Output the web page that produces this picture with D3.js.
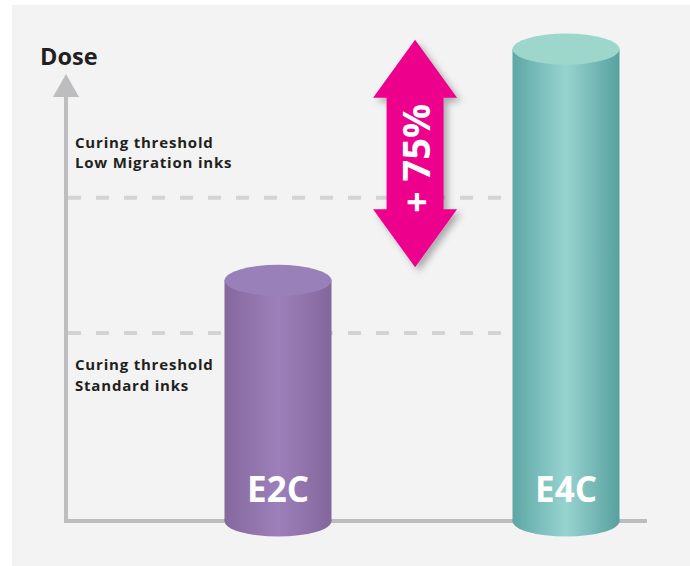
<!DOCTYPE html>
<html>
<head>
<meta charset="utf-8">
<script src="https://cdn.jsdelivr.net/npm/d3@7"></script>
<style>
  html, body { margin: 0; padding: 0; background: #ffffff; }
  svg { display: block; font-family: "Open Sans", "Noto Sans", sans-serif; }
</style>
</head>
<body>
<div id="chart"></div>
<script>
// chart values
var categories = ["E2C", "E4C"];
var doseValues = [128, 251];
var thresholdValues = [172, 100];
var thresholdLabels = [["Curing threshold", "Low Migration inks"], ["Curing threshold", "Standard inks"]];
var increaseLabel = "+ 75%";
var increaseRange = [135, 256];
var axisTitle = "Dose";

(function(){

  var ch = {

    initialize: function() {
      ch.svg = d3.select("#chart").append("svg")
                 .attr("width", 690)
                 .attr("height", 566);

      ch.origin = {x: 66, y: 521};

      ch.y = d3.scaleLinear().domain([0, 275]).range([ch.origin.y, 4]);
      ch.x = d3.scalePoint().domain(categories).range([278, 566]);

      ch.barWidth = 107;
      ch.ry = 15.5;

      ch.colors = {
        E2C: {stops: ["#85689c", "#9d80ba", "#83679b"], top: "#9a80b8"},
        E4C: {stops: ["#5da7a5", "#97d4d0", "#58a09e"], top: "#9dd6cb"}
      };

      var defs = ch.svg.append("defs");
      categories.forEach(function(c) {
        var g = defs.append("linearGradient")
                    .attr("id", "grad-" + c)
                    .attr("x1", "0").attr("x2", "1")
                    .attr("y1", "0").attr("y2", "0");
        g.append("stop").attr("offset", "0").attr("stop-color", ch.colors[c].stops[0]);
        g.append("stop").attr("offset", "0.5").attr("stop-color", ch.colors[c].stops[1]);
        g.append("stop").attr("offset", "1").attr("stop-color", ch.colors[c].stops[2]);
      });

      var f = defs.append("filter").attr("id", "shadow")
                  .attr("x", "-30%").attr("y", "-20%")
                  .attr("width", "170%").attr("height", "140%");
      f.append("feDropShadow")
          .attr("dx", 4).attr("dy", 4)
          .attr("stdDeviation", 3.5)
          .attr("flood-color", "#000")
          .attr("flood-opacity", 0.3);
    },

    draw: function() {
      var svg = ch.svg;

      // background panel
      svg.append("rect")
          .attr("x", 12).attr("y", 5)
          .attr("width", 678).attr("height", 561)
          .attr("fill", "#f3f3f3");

      // dashed threshold lines
      svg.selectAll(".threshold")
          .data(thresholdValues)
          .enter().append("line")
          .attr("class", "threshold")
          .attr("x1", ch.origin.x + 2)
          .attr("x2", ch.x("E4C") - 10)
          .attr("y1", function(d) { return ch.y(d); })
          .attr("y2", function(d) { return ch.y(d); })
          .attr("stroke", "#d3d3d3")
          .attr("stroke-width", 4)
          .attr("stroke-dasharray", "13,15");

      // threshold labels (upper one above its line, lower one below)
      thresholdValues.forEach(function(v, i) {
        var above = i == 0;
        var y0 = above ? ch.y(v) - 50 : ch.y(v) + 37;
        thresholdLabels[i].forEach(function(line, j) {
          svg.append("text")
              .attr("x", 75)
              .attr("y", y0 + j * 20.5)
              .attr("font-size", 15)
              .attr("font-weight", "bold")
              .attr("letter-spacing", 0.8)
              .attr("fill", "#231f20")
              .text(line);
        });
      });

      // axes
      svg.append("line")
          .attr("x1", ch.origin.x).attr("x2", ch.origin.x)
          .attr("y1", 95).attr("y2", ch.origin.y + 2)
          .attr("stroke", "#bdbdc0")
          .attr("stroke-width", 4);
      svg.append("path")
          .attr("d", d3.line()([[ch.origin.x, 74], [ch.origin.x + 13, 97], [ch.origin.x - 13, 97]]) + "Z")
          .attr("fill", "#bdbdc0");
      svg.append("line")
          .attr("x1", ch.origin.x - 2).attr("x2", 647)
          .attr("y1", ch.origin.y).attr("y2", ch.origin.y)
          .attr("stroke", "#bdbdc0")
          .attr("stroke-width", 4);

      svg.append("text")
          .attr("x", 40).attr("y", 65)
          .attr("font-size", 23.5)
          .attr("font-weight", "bold")
          .attr("fill", "#231f20")
          .text(axisTitle);

      // cylinders
      var bars = svg.selectAll(".bar")
          .data(categories.map(function(c, i) { return {cat: c, value: doseValues[i]}; }))
          .enter().append("g")
          .attr("class", "bar");

      bars.append("ellipse")
          .attr("cx", function(d) { return ch.x(d.cat); })
          .attr("cy", ch.y(0))
          .attr("rx", ch.barWidth / 2)
          .attr("ry", ch.ry)
          .attr("fill", function(d) { return "url(#grad-" + d.cat + ")"; });

      bars.append("rect")
          .attr("x", function(d) { return ch.x(d.cat) - ch.barWidth / 2; })
          .attr("y", function(d) { return ch.y(d.value); })
          .attr("width", ch.barWidth)
          .attr("height", function(d) { return ch.y(0) - ch.y(d.value); })
          .attr("fill", function(d) { return "url(#grad-" + d.cat + ")"; });

      bars.append("ellipse")
          .attr("cx", function(d) { return ch.x(d.cat); })
          .attr("cy", function(d) { return ch.y(d.value); })
          .attr("rx", ch.barWidth / 2)
          .attr("ry", ch.ry)
          .attr("fill", function(d) { return ch.colors[d.cat].top; });

      bars.append("text")
          .attr("x", function(d) { return ch.x(d.cat); })
          .attr("y", 502)
          .attr("text-anchor", "middle")
          .attr("font-size", 35)
          .attr("font-weight", "bold")
          .attr("fill", "#ffffff")
          .text(function(d) { return d.cat; });

      // +75% double arrow
      var ax = d3.interpolateNumber(ch.x("E2C"), ch.x("E4C"))(0.476);
      var top = ch.y(increaseRange[1]);
      var bot = ch.y(increaseRange[0]);
      var head = 58, hw = 42, sw = 28.5;
      var pts = [
        [ax, top], [ax + hw, top + head], [ax + sw, top + head],
        [ax + sw, bot - head], [ax + hw, bot - head], [ax, bot],
        [ax - hw, bot - head], [ax - sw, bot - head], [ax - sw, top + head],
        [ax - hw, top + head]
      ];
      svg.append("path")
          .attr("d", d3.line()(pts) + "Z")
          .attr("fill", "#ec008c")
          .attr("filter", "url(#shadow)");

      svg.append("text")
          .attr("transform", "translate(" + (ax + 15) + "," + ((top + bot) / 2 + 5) + ")rotate(-90)")
          .attr("text-anchor", "middle")
          .attr("font-size", 38)
          .attr("font-weight", "bold")
          .attr("fill", "#ffffff")
          .text(increaseLabel);
    }
  };

  ch.initialize();
  ch.draw();
})();
</script>
</body>
</html>
